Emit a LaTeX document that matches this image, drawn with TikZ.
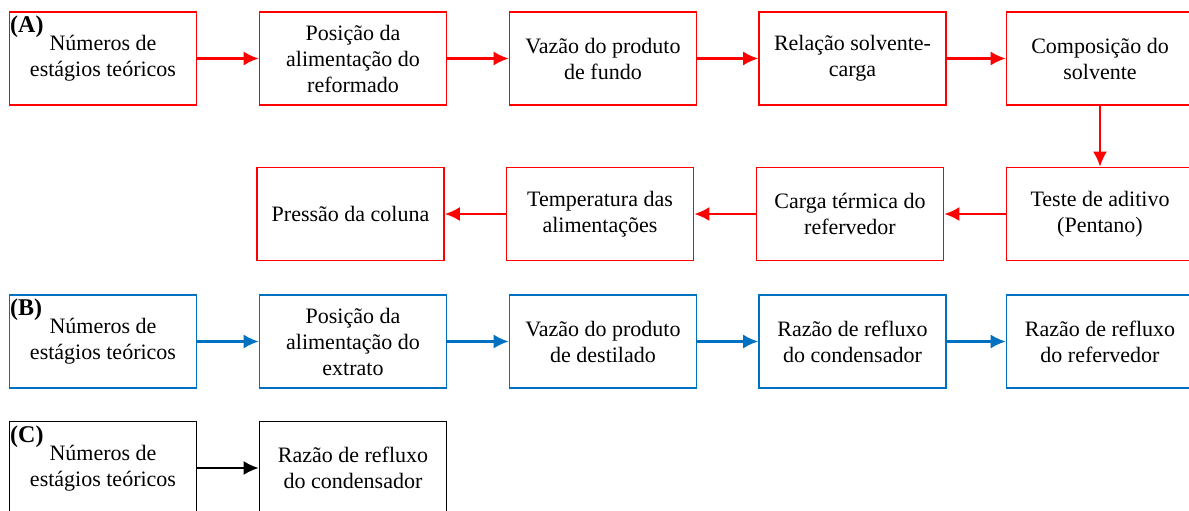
\documentclass[tikz,border=0pt]{standalone}
\usepackage{fontspec}
\setmainfont{Liberation Serif}
\usetikzlibrary{arrows.meta}
\definecolor{cred}{RGB}{255,0,0}
\definecolor{cblue}{RGB}{0,112,192}
\tikzset{
  boxa/.style={draw=cred, line width=1.6pt, minimum width=187pt, minimum height=93pt, inner sep=0pt, align=center, font=\fontsize{22}{26}\selectfont},
  boxb/.style={boxa, draw=cblue},
  boxc/.style={boxa, draw=black},
  arra/.style={draw=cred, line width=2.2pt, -{Latex[length=15pt,width=14pt]}},
  arrb/.style={arra, draw=cblue},
  arrc/.style={arra, draw=black},
  tag/.style={font=\fontsize{24}{26}\selectfont\bfseries, anchor=north west, inner sep=0pt}
}
\begin{document}
\begin{tikzpicture}[x=1pt,y=-1pt]
\useasboundingbox (0,0) rectangle (1189,511);
\clip (0,0) rectangle (1189,511);
% Row A
\node[boxa] (a1) at (103,58.5) {Números de\\estágios teóricos};
\node[boxa] (a2) at (353,58.5) {Posição da\\alimentação do\\reformado};
\node[boxa] (a3) at (603,58.5) {Vazão do produto\\de fundo};
\node[boxa] (a4) at (852.5,58.5) {Relação solvente-\\carga};
\node[boxa] (a5) at (1100,58.5) {Composição do\\solvente};
\node[boxa] (a6) at (1100,214) {Teste de aditivo\\(Pentano)};
\node[boxa] (a7) at (850,214) {Carga térmica do\\refervedor};
\node[boxa] (a8) at (600,214) {Temperatura das\\alimentações};
\node[boxa] (a9) at (350.5,214) {Pressão da coluna};
\node[tag] (ta) at (10,16) {(A)};
\draw[arra] (a1) -- (a2);
\draw[arra] (a2) -- (a3);
\draw[arra] (a3) -- (a4);
\draw[arra] (a4) -- (a5);
\draw[arra] (a5) -- (a6);
\draw[arra] (a6) -- (a7);
\draw[arra] (a7) -- (a8);
\draw[arra] (a8) -- (a9);
% Row B
\node[boxb] (b1) at (103,341.5) {Números de\\estágios teóricos};
\node[boxb] (b2) at (353,341.5) {Posição da\\alimentação do\\extrato};
\node[boxb] (b3) at (603,341.5) {Vazão do produto\\de destilado};
\node[boxb] (b4) at (852.5,341.5) {Razão de refluxo\\do condensador};
\node[boxb] (b5) at (1100,341.5) {Razão de refluxo\\do refervedor};
\node[tag] (tb) at (10,299) {(B)};
\draw[arrb] (b1) -- (b2);
\draw[arrb] (b2) -- (b3);
\draw[arrb] (b3) -- (b4);
\draw[arrb] (b4) -- (b5);
% Row C
\node[boxc] (c1) at (103,468) {Números de\\estágios teóricos};
\node[boxc] (c2) at (353,468) {Razão de refluxo\\do condensador};
\node[tag] (tc) at (10,426) {(C)};
\draw[arrc] (c1) -- (c2);
\end{tikzpicture}
\end{document}
